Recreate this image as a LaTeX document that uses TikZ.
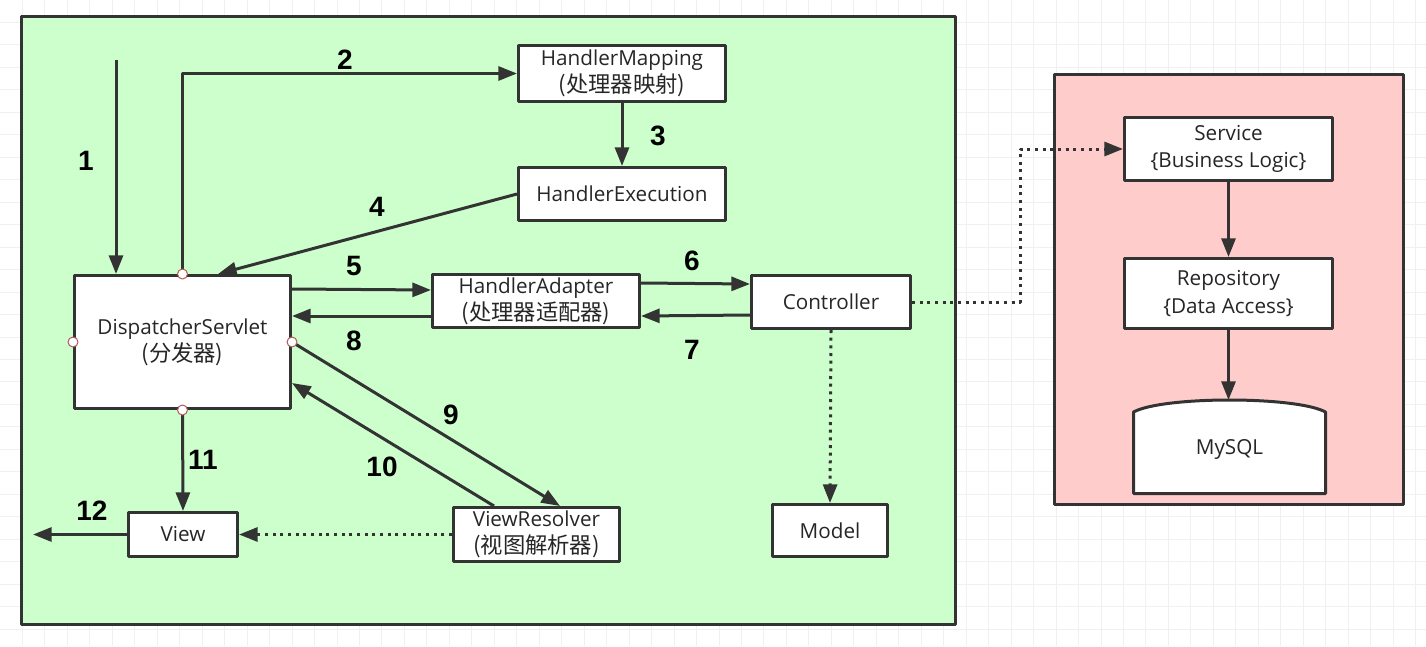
\documentclass[tikz,border=0pt]{standalone}
\usepackage{fontspec}
\setmainfont{Open Sans}
\newfontfamily\cjk[Scale=1.08]{Noto Sans CJK SC}
\newfontfamily\numfont{Liberation Sans}
\usetikzlibrary{arrows.meta}
\definecolor{linec}{HTML}{333333}
\definecolor{panelgreen}{HTML}{CCFFCC}
\definecolor{panelpink}{HTML}{FFCCCC}
\definecolor{gridc}{HTML}{F0F0F0}
\definecolor{handlec}{HTML}{B05A5A}
\begin{document}
\begin{tikzpicture}[x=0.75pt,y=-0.75pt,>={Triangle[length=14pt,width=10.5pt]},line join=round,
	box/.style={draw=linec,line width=2.25pt,fill=white,align=center,inner sep=0pt,font=\fontsize{15.5}{20.5}\selectfont,text=black!85},
	panel/.style={draw=linec,line width=2.25pt},
	flow/.style={->,draw=linec,line width=2.25pt},
	dots/.style={->,draw=linec,line width=2.25pt,dash pattern=on 2.25pt off 3.5pt},
	num/.style={font=\numfont\fontsize{21}{24}\selectfont\bfseries},
	handle/.style={circle,draw=handlec,fill=white,line width=0.75pt,inner sep=0pt,minimum size=7.5pt}]
		\useasboundingbox (0,0) rectangle (1426,646);
		\fill[white] (0,0) rectangle (1426,646);
		% background grid
		\foreach \k in {1,...,63} \draw[gridc,line width=0.75pt] (\k*22.47,0) -- (\k*22.47,646);
		\foreach \k in {1,...,28} \draw[gridc,line width=0.75pt] (0,\k*22.47) -- (1426,\k*22.47);
		% panels
		\draw[panel,fill=panelgreen] (21.5,16.5) rectangle (955.5,624.5);
		\draw[panel,fill=panelpink] (1054.5,74.5) rectangle (1403.5,504.5);
		% nodes
		\node[box,minimum width=155.25pt,minimum height=42pt] (hmap) at (622,73.5) {HandlerMapping\\{\cjk (处理器映射)}};
		\node[box,minimum width=155.25pt,minimum height=39.75pt] (hexec) at (622,194) {HandlerExecution};
		\node[box,minimum width=162pt,minimum height=99.75pt] (disp) at (182.5,342) {DispatcherServlet\\{\cjk (分发器)}};
		\node[box,minimum width=155.25pt,minimum height=39.75pt] (hadapt) at (536,301) {HandlerAdapter\\{\cjk (处理器适配器)}};
		\node[box,minimum width=119.25pt,minimum height=39.75pt] (ctrl) at (831,302) {Controller};
		\node[box,minimum width=86.25pt,minimum height=39pt] (model) at (830,530.5) {Model};
		\node[box,minimum width=81.75pt,minimum height=33pt] (view) at (183,534.5) {View};
		\node[box,minimum width=124.5pt,minimum height=40.5pt] (vres) at (536.5,534.5) {ViewResolver\\{\cjk (视图解析器)}};
		\node[box,minimum width=156pt,minimum height=47.25pt] (service) at (1228.5,149) {Service\\\{Business Logic\}};
		\node[box,minimum width=156pt,minimum height=52.5pt] (repo) at (1228.5,293.5) {Repository\\\{Data Access\}};
		\draw[draw=linec,line width=2.25pt,fill=white] (1133.5,493.5) -- (1133.5,412) .. controls (1163,396) and (1296,396) .. (1325.5,412) -- (1325.5,493.5) -- cycle;
		\node[box,draw=none,fill=none] (db) at (1229.5,449) {MySQL};
		\coordinate (dbtop) at (1228.5,400);
		\coordinate (start) at (116,60);
		\coordinate (exit) at (33,534.5);
		\coordinate (bend) at (1020,149);
		% connectors
		\draw[flow] (start) -- (start |- disp.north);
		\draw[flow] (disp.north) |- (hmap.west);
		\draw[flow] (hmap.south) -- (hexec.north);
		\draw[flow] (hexec.west) -- (disp.north -| 218,0);
		\draw[flow] (disp.east |- 0,289) -- (hadapt.west |- 0,290);
		\draw[flow] (hadapt.west |- 0,316) -- (disp.east |- 0,316);
		\draw[flow] (hadapt.east |- 0,283) -- (ctrl.west |- 0,284);
		\draw[flow] (ctrl.west |- 0,315) -- (hadapt.east |- 0,316);
		\draw[flow] (disp.east) -- (vres.north -| 560,0);
		\draw[flow] (vres.north -| 494,0) -- (disp.east |- 0,383);
		\draw[flow] (disp.south) -- (view.north);
		\draw[flow] (view.west) -- (exit);
		\draw[dots] (vres.west) -- (view.east);
		\draw[dots] (ctrl.south) -- (model.north);
		\draw[dots] (ctrl.east) -| (bend) -- (service.west);
		\draw[flow] (service.south) -- (repo.north);
		\draw[flow] (repo.south) -- (dbtop);
		% step numbers
		\node[num] (n1) at (86,161) {1};
		\node[num] (n2) at (345,60) {2};
		\node[num] (n3) at (658,136) {3};
		\node[num] (n4) at (377,207) {4};
		\node[num] (n5) at (354,266) {5};
		\node[num] (n6) at (692,261) {6};
		\node[num] (n7) at (692,350) {7};
		\node[num] (n8) at (354,341) {8};
		\node[num] (n9) at (451,415) {9};
		\node[num] (n10) at (382,467) {10};
		\node[num] (n11) at (203,460) {11};
		\node[num] (n12) at (92,511) {12};
		% handles
		\foreach \a in {north,south,east,west} \node[handle] at (disp.\a) {};
\end{tikzpicture}
\end{document}
